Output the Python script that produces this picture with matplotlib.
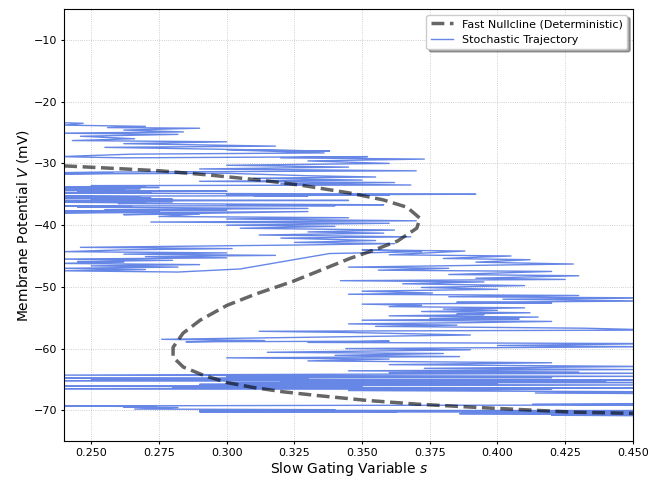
import matplotlib.pyplot as plt
import numpy as np

# Fast nullcline (deterministic): (s, V)
nullcline_s = [0.240, 0.258, 0.2754, 0.294, 0.3123, 0.327, 0.3455, 0.3577, 0.3666, 0.3714,
               0.3702, 0.363, 0.354, 0.3455, 0.337, 0.3245, 0.3105, 0.3001, 0.2902, 0.2839,
               0.2802, 0.2802, 0.284, 0.2913, 0.300, 0.3098, 0.3208, 0.3333, 0.3518, 0.3702,
               0.391, 0.4094, 0.4278, 0.450]
nullcline_v = [-30.4, -30.8, -31.2, -31.9, -32.7, -33.5, -34.8, -35.9, -37.1, -38.9,
               -40.5, -42.6, -44.1, -45.4, -46.9, -49.1, -51.2, -53.0, -55.4, -57.5,
               -59.8, -61.4, -63.0, -64.3, -65.5, -66.3, -67.0, -67.6, -68.4, -69.0,
               -69.5, -69.9, -70.3, -70.5]

# Stochastic trajectory, vertices (s, V) read band by band from top to bottom
band_a = [(0.238, -23.4), (0.247, -23.5), (0.240, -23.8), (0.270, -24.0), (0.256, -24.2),
          (0.290, -24.3), (0.262, -24.6), (0.284, -24.9), (0.238, -25.1), (0.282, -25.3),
          (0.246, -25.6), (0.266, -26.0), (0.243, -26.3), (0.300, -26.5), (0.262, -26.8),
          (0.318, -27.2), (0.255, -27.4), (0.338, -28.0), (0.300, -27.8), (0.336, -28.3),
          (0.265, -28.5), (0.238, -28.9), (0.262, -29.1), (0.352, -28.9), (0.320, -29.1),
          (0.373, -29.3), (0.330, -29.6), (0.360, -30.0), (0.300, -30.3), (0.345, -30.6),
          (0.290, -30.9), (0.370, -31.2), (0.255, -31.4), (0.238, -31.5)]
band_b = [(0.258, -31.6), (0.238, -31.7), (0.300, -31.6), (0.330, -32.0), (0.355, -32.2),
          (0.310, -32.4), (0.350, -32.7), (0.290, -32.9), (0.362, -33.1), (0.320, -33.3),
          (0.368, -33.5), (0.250, -33.6), (0.270, -33.7), (0.238, -33.8), (0.275, -33.9),
          (0.240, -34.0), (0.268, -34.1), (0.238, -34.2), (0.262, -34.3), (0.238, -34.4),
          (0.300, -34.5), (0.245, -34.6), (0.272, -34.7), (0.238, -34.8), (0.392, -35.0),
          (0.300, -35.1), (0.360, -35.15), (0.310, -35.2), (0.330, -35.25), (0.240, -35.3),
          (0.268, -35.4), (0.238, -35.5), (0.272, -35.6), (0.240, -35.7), (0.280, -35.8),
          (0.250, -35.9), (0.345, -36.0), (0.238, -36.1), (0.280, -36.2), (0.240, -36.3),
          (0.270, -36.4), (0.260, -36.5), (0.358, -36.7), (0.300, -36.8), (0.340, -36.85),
          (0.238, -36.9), (0.265, -37.0), (0.245, -37.1), (0.330, -37.3), (0.255, -37.5),
          (0.300, -37.6), (0.238, -37.7), (0.275, -37.8), (0.240, -38.0)]
band_c = [(0.255, -38.0), (0.330, -37.8), (0.262, -38.3), (0.290, -38.2), (0.275, -38.6),
          (0.345, -38.8), (0.300, -39.0), (0.370, -39.3), (0.272, -39.5), (0.360, -39.7),
          (0.300, -40.0), (0.340, -40.2), (0.305, -40.5), (0.362, -40.8), (0.330, -41.1),
          (0.358, -41.3), (0.312, -41.6), (0.368, -41.9), (0.320, -42.1), (0.355, -42.5),
          (0.325, -42.8), (0.362, -43.0), (0.330, -43.2), (0.246, -43.6), (0.302, -43.8),
          (0.262, -44.0)]
band_d = [(0.240, -44.3), (0.300, -44.5), (0.262, -44.7), (0.318, -44.9), (0.270, -45.1),
          (0.300, -45.3), (0.238, -45.5), (0.280, -45.7), (0.245, -45.9), (0.262, -46.0),
          (0.238, -46.2), (0.290, -46.4), (0.250, -46.6), (0.282, -46.8), (0.238, -47.0),
          (0.270, -47.2), (0.240, -47.4), (0.282, -47.6), (0.305, -47.1)]
band_e = [(0.338, -44.6), (0.372, -44.3), (0.350, -44.0), (0.388, -44.2), (0.360, -44.8),
          (0.405, -45.0), (0.380, -45.4), (0.412, -45.6), (0.392, -46.0), (0.428, -46.3),
          (0.345, -46.8), (0.382, -47.0), (0.356, -47.3), (0.420, -47.5), (0.382, -48.0),
          (0.430, -48.2), (0.392, -48.6), (0.425, -48.8), (0.342, -49.0), (0.395, -49.2),
          (0.365, -49.5), (0.410, -49.8), (0.372, -50.1), (0.400, -50.4), (0.350, -50.7),
          (0.376, -51.0), (0.345, -51.2), (0.430, -51.4), (0.382, -51.6), (0.460, -51.8),
          (0.402, -52.0), (0.455, -52.3), (0.385, -52.5), (0.420, -52.6), (0.350, -52.8),
          (0.372, -53.0), (0.360, -53.2), (0.410, -53.4), (0.380, -53.6), (0.400, -53.8),
          (0.372, -54.0), (0.412, -54.2), (0.385, -54.4), (0.395, -54.5), (0.360, -54.7),
          (0.415, -54.9), (0.375, -55.1), (0.408, -55.2), (0.350, -55.4), (0.420, -55.6),
          (0.390, -55.8), (0.345, -56.0), (0.385, -56.2), (0.355, -56.4), (0.432, -56.7),
          (0.460, -57.0), (0.312, -57.2), (0.346, -57.4)]
band_f = [(0.390, -57.8), (0.276, -58.5), (0.314, -58.7), (0.285, -58.9), (0.360, -58.8),
          (0.330, -59.0), (0.460, -59.2), (0.400, -59.5), (0.455, -59.7), (0.344, -60.0),
          (0.390, -60.2), (0.315, -60.6), (0.380, -60.8), (0.340, -61.1), (0.386, -61.3),
          (0.300, -61.5), (0.360, -61.7), (0.330, -62.0), (0.420, -62.3), (0.360, -62.6),
          (0.455, -62.9)]
band_g = [(0.373, -63.2), (0.450, -63.4), (0.345, -63.6), (0.430, -63.8), (0.360, -63.9),
          (0.460, -64.0), (0.238, -64.3), (0.460, -64.5), (0.300, -64.6), (0.420, -64.7),
          (0.238, -64.8), (0.330, -64.9), (0.250, -65.0), (0.460, -65.1), (0.238, -65.2),
          (0.440, -65.3), (0.320, -65.4), (0.460, -65.5), (0.300, -65.6), (0.400, -65.7),
          (0.290, -65.8), (0.460, -65.9), (0.238, -66.1), (0.350, -66.2), (0.280, -66.3),
          (0.460, -66.4), (0.238, -66.5), (0.420, -66.6), (0.345, -66.8), (0.460, -67.0),
          (0.414, -67.2), (0.460, -67.3)]
band_h = [(0.460, -68.9), (0.413, -69.0), (0.460, -69.15), (0.342, -69.2), (0.238, -69.3),
          (0.274, -69.4), (0.262, -69.5), (0.282, -69.55), (0.266, -69.8), (0.340, -69.9),
          (0.290, -70.0), (0.460, -70.05), (0.330, -70.1), (0.363, -70.2), (0.290, -70.25),
          (0.460, -70.3), (0.387, -70.4), (0.460, -70.5), (0.386, -70.55), (0.460, -70.7),
          (0.420, -70.8), (0.460, -70.9)]

traj = np.array(band_a + band_b + band_c + band_d + band_e + band_f + band_g + band_h)
traj_s, traj_v = traj[:, 0], traj[:, 1]

fig, ax = plt.subplots(figsize=(6.62, 4.79), dpi=100)
fig.subplots_adjust(left=0.097, right=0.956, top=0.981, bottom=0.079)

ax.plot(nullcline_s, nullcline_v, '--', color='k', alpha=0.6, lw=2.5,
        label='Fast Nullcline (Deterministic)', zorder=3)
ax.plot(traj_s, traj_v, color='royalblue', alpha=0.8, lw=1.0,
        label='Stochastic Trajectory', zorder=2)

ax.set_xlim(0.24, 0.45)
ax.set_ylim(-75, -5)
ax.set_xlabel('Slow Gating Variable $s$', fontsize=10, labelpad=1.5)
ax.set_ylabel('Membrane Potential $V$ (mV)', fontsize=10, labelpad=2)
ax.tick_params(labelsize=8, length=2.5, pad=2.5)
ax.grid(True, linestyle=':', linewidth=0.6, color='gray', alpha=0.5)
ax.legend(loc='upper right', fontsize=8, shadow=True, fancybox=True)

plt.savefig('out.png', dpi=100)
